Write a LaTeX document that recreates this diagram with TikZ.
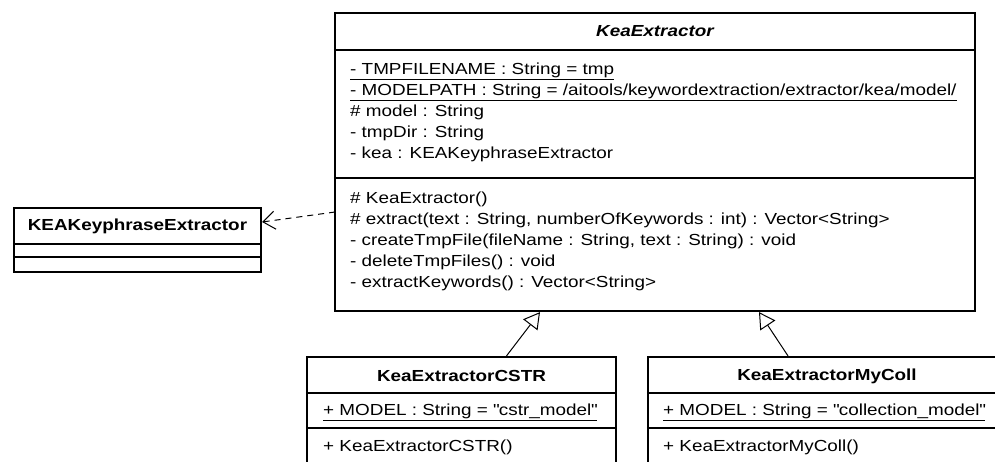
\documentclass[tikz,border=0pt]{standalone}
\usepackage{fontspec}
\setmainfont{Liberation Sans}[FakeStretch=1.18]
\usetikzlibrary{arrows.meta}

\tikzset{
  classbox/.style={draw, line width=2.2pt, inner sep=0pt},
  divider/.style={line width=1.2pt},
  member/.style={anchor=west, inner sep=0pt, font=\fontsize{16}{19}\selectfont,
    text height=11.5pt, text depth=3.5pt},
  classname/.style={inner sep=0pt, font=\fontsize{16}{19}\selectfont\bfseries},
  depend/.style={line width=1pt, dash pattern=on 6pt off 5pt,
    -{Straight Barb[length=12pt,width=18pt]}},
  inherit/.style={line width=1pt, -{Triangle[open,length=16pt,width=18pt,fill=white]}},
}

\begin{document}
\begin{tikzpicture}[x=1pt,y=-1pt]
            \useasboundingbox (0,0) rectangle (995,461);
            \clip (0,0) rectangle (995,461);

            % abstract class
            \node[classbox, minimum width=640, minimum height=298] (kea) at (655,162) {};
            \node[classname, font=\fontsize{16}{19}\selectfont\bfseries\itshape] (kea-name) at (655,31) {KeaExtractor};
            \draw[divider] (kea.west |- 0,50) -- (kea.east |- 0,50);
            \draw[divider] (kea.west |- 0,178) -- (kea.east |- 0,178);
            \node[member] (kea-a1) at (350,70) {\underline{- TMPFILENAME : String = tmp}};
            \node[member] (kea-a2) at (350,91) {\underline{- MODELPATH : String = /aitools/keywordextraction/extractor/kea/model/}};
            \node[member] (kea-a3) at (350,112) {\# model : String};
            \node[member] (kea-a4) at (350,133) {- tmpDir : String};
            \node[member] (kea-a5) at (350,154) {- kea : KEAKeyphraseExtractor};
            \node[member] (kea-o1) at (350,199) {\# KeaExtractor()};
            \node[member] (kea-o2) at (350,220) {\# extract(text : String, numberOfKeywords : int) : Vector<String>};
            \node[member] (kea-o3) at (350,241) {- createTmpFile(fileName : String, text : String) : void};
            \node[member] (kea-o4) at (350,262) {- deleteTmpFiles() : void};
            \node[member] (kea-o5) at (350,283) {- extractKeywords() : Vector<String>};

            % used class
            \node[classbox, minimum width=247, minimum height=64] (kkex) at (137.5,240) {};
            \node[classname] (kkex-name) at (137.5,226) {KEAKeyphraseExtractor};
            \draw[divider] (kkex.west |- 0,244) -- (kkex.east |- 0,244);
            \draw[divider] (kkex.west |- 0,257) -- (kkex.east |- 0,257);

            % subclasses
            \node[classbox, minimum width=309, minimum height=133] (cstr) at (461.5,423.5) {};
            \node[classname] (cstr-name) at (461.5,376) {KeaExtractorCSTR};
            \draw[divider] (cstr.west |- 0,393) -- (cstr.east |- 0,393);
            \draw[divider] (cstr.west |- 0,428) -- (cstr.east |- 0,428);
            \node[member] (cstr-a1) at (323,411) {\underline{+ MODEL : String = \textquotedbl cstr\_model\textquotedbl}};
            \node[member] (cstr-o1) at (323,447) {+ KeaExtractorCSTR()};

            \node[classbox, minimum width=358, minimum height=133] (mycoll) at (827,423.5) {};
            \node[classname] (mycoll-name) at (827,376) {KeaExtractorMyColl};
            \draw[divider] (mycoll.west |- 0,393) -- (mycoll.east |- 0,393);
            \draw[divider] (mycoll.west |- 0,428) -- (mycoll.east |- 0,428);
            \node[member] (mycoll-a1) at (663,411) {\underline{+ MODEL : String = \textquotedbl collection\_model\textquotedbl}};
            \node[member] (mycoll-o1) at (663,447) {+ KeaExtractorMyColl()};

            % relations
            \coordinate (dep-from) at (335,212);
            \coordinate (dep-to) at (263,222);
            \draw[depend] (dep-from) -- (kkex.east |- dep-to);
            \draw[inherit] ([xshift=45]cstr.north) -- ([xshift=-115]kea.south);
            \draw[inherit] ([xshift=-39]mycoll.north) -- ([xshift=104]kea.south);
        \end{tikzpicture}
\end{document}
